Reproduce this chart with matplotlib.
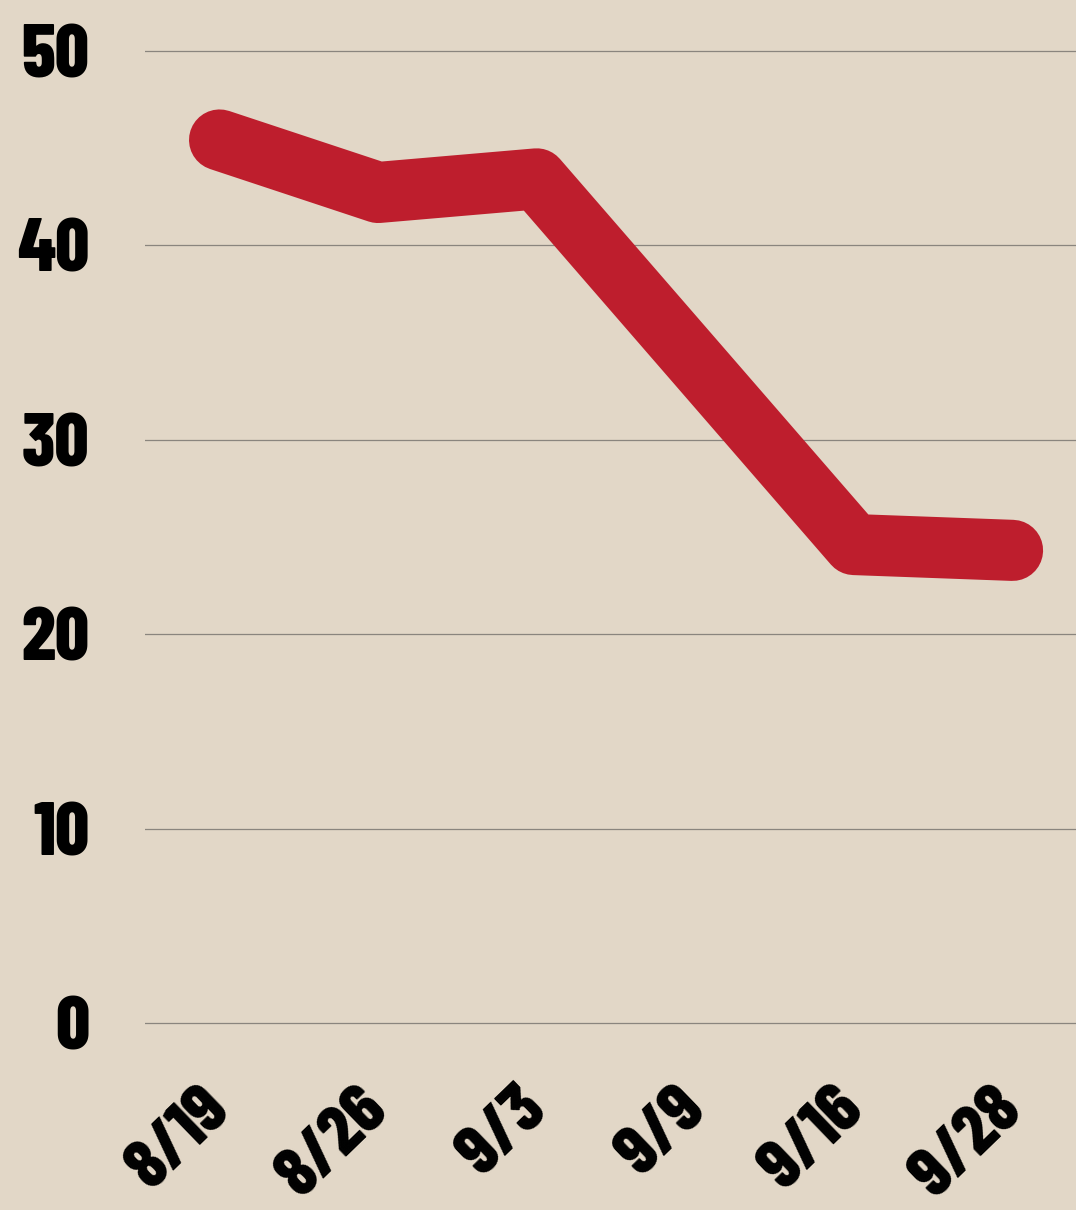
import matplotlib.pyplot as plt
from matplotlib import font_manager

dates = ['8/19', '8/26', '9/3', '9/9', '9/16', '9/28']
values = [45.4, 42.7, 43.4, 34.0, 24.6, 24.3]
yticks = [0, 10, 20, 30, 40, 50]

# heavy condensed face for the labels, fall back to DejaVu condensed
names = {f.name for f in font_manager.fontManager.ttflist}
if 'Barlow Condensed' in names:
    lab = dict(family='Barlow Condensed', fontweight=800)
else:
    lab = dict(family='DejaVu Sans', fontweight='bold', fontstretch='condensed')

bg = '#E2D7C7'
red = '#BE1E2D'

fig = plt.figure(figsize=(10.76, 12.10), dpi=100, facecolor=bg)
# y=0 sits at 1023px, 19.45px per unit, grid starts at x=145px
ax = fig.add_axes([145 / 1076, (1210 - 1030.8) / 1210, 1 - 145 / 1076, (1030.8 - 11.6) / 1210])
ax.set_facecolor(bg)

x = list(range(len(dates)))
ax.plot(x, values, color=red, linewidth=44, solid_capstyle='round',
        solid_joinstyle='round', zorder=3)

ax.set_xlim(-0.47, 5.40)
ax.set_ylim(-0.4, 52)
ax.yaxis.grid(True, color='#8a857e', linewidth=0.9)
ax.set_axisbelow(True)

for s in ax.spines.values():
    s.set_visible(False)
ax.tick_params(length=0)

ax.set_yticks(yticks)
ax.set_yticklabels([str(v) for v in yticks], fontsize=54, color='black', **lab)
ax.tick_params(axis='y', pad=40)

ax.set_xticks(x)
ax.set_xticklabels(dates, rotation=44, ha='right', va='center',
                   rotation_mode='anchor', fontsize=50, color='black', **lab)
ax.tick_params(axis='x', pad=50)

fig.savefig('out.png', dpi=100, facecolor=bg)
